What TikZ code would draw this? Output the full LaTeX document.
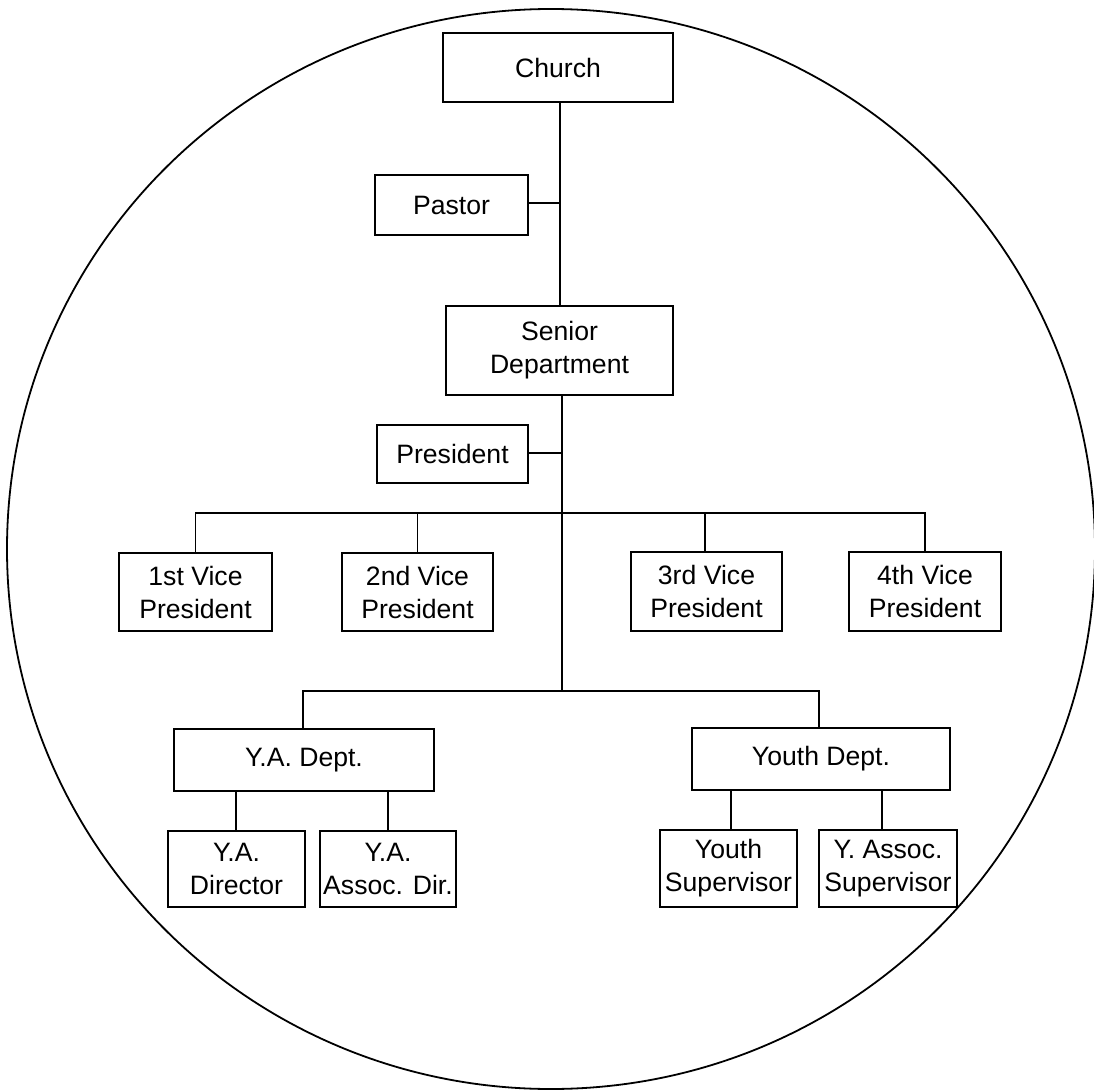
\documentclass[tikz,border=0pt]{standalone}
\usepackage{fontspec}
\setmainfont{Liberation Sans}
\begin{document}
\begin{tikzpicture}[x=0.5pt,y=-0.5pt,
  box/.style={draw, line width=0.9pt, rectangle, inner sep=0pt, align=center,
    font=\fontsize{13.3pt}{16.5pt}\selectfont},
  link/.style={line width=0.9pt}]
\useasboundingbox (0,0) rectangle (1094,1092);
\draw[line width=0.9pt] (551,549) ellipse [x radius=544, y radius=540];
% nodes
\node[box, minimum width=115pt, minimum height=34.5pt] (church) at (558,67.5) {Church};
\node[box, minimum width=76.5pt, minimum height=30pt] (pastor) at (451.5,205) {Pastor};
\node[box, minimum width=113.5pt, minimum height=44.5pt] (senior) at (559.5,350.5) {Senior\\Department};
\node[box, minimum width=75.5pt, minimum height=29pt] (president) at (452.5,454) {President};
\node[box, minimum width=76.5pt, minimum height=39pt] (vp1) at (195.5,592) {1st Vice\\President};
\node[box, minimum width=75.5pt, minimum height=39pt] (vp2) at (417.5,592) {2nd Vice\\President};
\node[box, minimum width=75.5pt, minimum height=39.5pt] (vp3) at (706.5,591.5) {3rd Vice\\President};
\node[box, minimum width=76pt, minimum height=39.5pt] (vp4) at (925,591.5) {4th Vice\\President};
\node[box, minimum width=130pt, minimum height=31pt] (yadept) at (304,760) {Y.A. Dept.};
\node[box, minimum width=129pt, minimum height=31pt] (youthdept) at (821,759) {Youth Dept.};
\node[box, minimum width=68.5pt, minimum height=38pt] (yadir) at (236.5,869) {Y.A.\\Director};
\node[box, minimum width=68pt, minimum height=38pt] (yaassoc) at (388,869) {Y.A.\\Assoc. Dir.};
\node[box, minimum width=68.5pt, minimum height=38.5pt] (youthsup) at (728.5,868.5) {Youth\\Supervisor};
\node[box, minimum width=69pt, minimum height=38.5pt] (yassocsup) at (888,868.5) {Y. Assoc.\\Supervisor};
% junction coordinates
\coordinate (jpastor) at (560,203);
\coordinate (jpres) at (562,453);
\coordinate (jvp) at (562,513);
\coordinate (jlow) at (562,691);
% connectors
\draw[link] (church.south -| jpastor) -- (senior.north -| jpastor);
\draw[link] (pastor.east |- jpastor) -- (jpastor);
\draw[link] (senior.south -| jpres) -- (jlow);
\draw[link] (president.east |- jpres) -- (jpres);
\draw[link] (vp1.north) -- (vp1.north |- jvp) -- (vp4.north |- jvp) -- (vp4.north);
\draw[link] (vp2.north) -- (vp2.north |- jvp);
\draw[link] (vp3.north -| 705,0) -- (705,513);
\draw[link] (yadept.north -| 303,0) -- (303,691) -- (819,691) -- (youthdept.north -| 819,0);
\draw[link] (yadept.south -| 236,0) -- (yadir.north -| 236,0);
\draw[link] (yadept.south -| 388,0) -- (yaassoc.north -| 388,0);
\draw[link] (youthdept.south -| 731,0) -- (youthsup.north -| 731,0);
\draw[link] (youthdept.south -| 882,0) -- (yassocsup.north -| 882,0);
\end{tikzpicture}
\end{document}
